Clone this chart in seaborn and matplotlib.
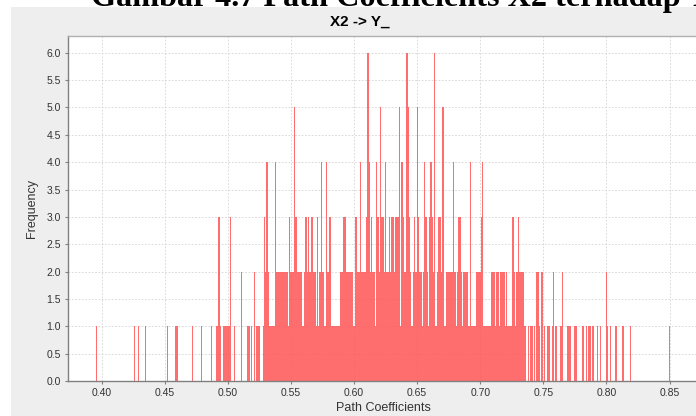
import numpy as np
import pandas as pd
import matplotlib
matplotlib.use("Agg")
import matplotlib.pyplot as plt
from matplotlib.patches import Rectangle
import seaborn as sns

# ---- data (bin centre -> frequency) ----
coefficients = [
    0.396, 0.426, 0.429, 0.435, 0.452, 0.459, 0.460, 0.472, 0.479, 0.487,
    0.491, 0.492, 0.493, 0.494, 0.497, 0.498, 0.499, 0.500, 0.501, 0.502,
    0.505, 0.511, 0.516, 0.517, 0.519, 0.521, 0.523, 0.524, 0.525, 0.528,
    0.529, 0.530, 0.531, 0.532, 0.533, 0.534, 0.535, 0.536, 0.537, 0.538,
    0.539, 0.540, 0.541, 0.542, 0.543, 0.544, 0.545, 0.546, 0.547, 0.548,
    0.549, 0.550, 0.551, 0.552, 0.553, 0.554, 0.555, 0.556, 0.557, 0.558,
    0.559, 0.560, 0.561, 0.562, 0.563, 0.564, 0.565, 0.566, 0.567, 0.568,
    0.569, 0.570, 0.571, 0.572, 0.573, 0.574, 0.575, 0.576, 0.577, 0.578,
    0.579, 0.580, 0.581, 0.582, 0.583, 0.584, 0.585, 0.586, 0.587, 0.588,
    0.589, 0.590, 0.591, 0.592, 0.593, 0.594, 0.595, 0.596, 0.597, 0.598,
    0.599, 0.600, 0.601, 0.602, 0.603, 0.604, 0.605, 0.606, 0.607, 0.608,
    0.609, 0.610, 0.611, 0.612, 0.613, 0.614, 0.615, 0.616, 0.617, 0.618,
    0.619, 0.620, 0.621, 0.622, 0.623, 0.624, 0.625, 0.626, 0.627, 0.628,
    0.629, 0.630, 0.631, 0.632, 0.633, 0.634, 0.635, 0.636, 0.637, 0.638,
    0.639, 0.640, 0.641, 0.642, 0.643, 0.644, 0.645, 0.646, 0.647, 0.648,
    0.649, 0.650, 0.651, 0.652, 0.653, 0.654, 0.655, 0.656, 0.657, 0.658,
    0.659, 0.660, 0.661, 0.662, 0.663, 0.664, 0.665, 0.666, 0.667, 0.668,
    0.669, 0.670, 0.671, 0.672, 0.673, 0.674, 0.675, 0.676, 0.677, 0.678,
    0.679, 0.680, 0.681, 0.682, 0.683, 0.684, 0.685, 0.686, 0.687, 0.688,
    0.689, 0.690, 0.691, 0.692, 0.693, 0.694, 0.695, 0.696, 0.697, 0.698,
    0.699, 0.700, 0.701, 0.702, 0.703, 0.704, 0.705, 0.706, 0.707, 0.708,
    0.709, 0.710, 0.711, 0.712, 0.713, 0.714, 0.715, 0.716, 0.717, 0.718,
    0.719, 0.720, 0.721, 0.722, 0.723, 0.724, 0.725, 0.726, 0.727, 0.728,
    0.729, 0.730, 0.731, 0.732, 0.733, 0.734, 0.735, 0.736, 0.738, 0.740,
    0.741, 0.743, 0.745, 0.746, 0.747, 0.749, 0.751, 0.753, 0.754, 0.755,
    0.757, 0.758, 0.760, 0.764, 0.765, 0.769, 0.770, 0.771, 0.775, 0.776,
    0.781, 0.782, 0.784, 0.786, 0.787, 0.789, 0.790, 0.793, 0.795, 0.800,
    0.801, 0.803, 0.807, 0.808, 0.813, 0.819, 0.850,
]
frequency = [
    1, 1, 1, 1, 1, 1, 1, 1, 1, 1,
    1, 1, 3, 1, 1, 1, 1, 1, 1, 3,
    1, 2, 1, 1, 1, 2, 1, 1, 1, 1,
    3, 2, 4, 2, 1, 1, 1, 1, 1, 4,
    2, 2, 2, 2, 2, 2, 2, 2, 2, 1,
    3, 2, 2, 2, 5, 3, 2, 2, 2, 2,
    1, 1, 2, 3, 2, 3, 2, 3, 3, 2,
    2, 1, 3, 1, 2, 4, 2, 2, 1, 4,
    2, 2, 3, 1, 1, 1, 1, 1, 1, 1,
    2, 2, 2, 3, 3, 2, 2, 2, 2, 2,
    2, 1, 3, 3, 2, 2, 4, 2, 2, 2,
    2, 3, 6, 4, 2, 3, 2, 2, 1, 4,
    3, 2, 5, 3, 3, 2, 4, 2, 2, 3,
    2, 3, 3, 2, 3, 3, 3, 5, 1, 4,
    3, 2, 2, 6, 5, 3, 2, 1, 2, 3,
    2, 5, 3, 2, 2, 1, 2, 4, 3, 2,
    1, 3, 4, 3, 2, 6, 1, 2, 3, 3,
    2, 5, 5, 1, 2, 2, 2, 2, 2, 2,
    4, 2, 1, 2, 3, 3, 2, 1, 2, 2,
    2, 2, 1, 4, 1, 1, 1, 1, 2, 2,
    2, 2, 3, 4, 1, 1, 1, 1, 1, 1,
    2, 2, 2, 1, 2, 2, 1, 2, 2, 2,
    2, 1, 2, 1, 1, 1, 1, 3, 2, 1,
    2, 3, 2, 2, 2, 2, 1, 1, 1, 1,
    1, 1, 2, 2, 1, 2, 1, 1, 1, 1,
    1, 2, 1, 1, 2, 1, 1, 1, 1, 1,
    1, 1, 1, 1, 1, 1, 1, 1, 1, 2,
    1, 1, 1, 1, 1, 1, 1,
]
x_ticks = [0.40, 0.45, 0.50, 0.55, 0.60, 0.65, 0.70, 0.75, 0.80, 0.85]
y_ticks = [0.0, 0.5, 1.0, 1.5, 2.0, 2.5, 3.0, 3.5, 4.0, 4.5, 5.0, 5.5, 6.0]
chart_title = "X2 -> Y_"
caption = "Gambar 4.7 Path Coefficients X2 terhadap Y"

df = pd.DataFrame({"coef": coefficients, "freq": frequency})

W, H = 696, 416
fig = plt.figure(figsize=(W / 100, H / 100), dpi=100)
fig.patch.set_facecolor("white")

# grey chart panel
fig.add_artist(Rectangle((11 / W, 0), 1, 1 - 7 / H, transform=fig.transFigure,
                         facecolor="#eeeeee", edgecolor="none", zorder=0))

# caption (its top is clipped by the image edge, as in the reference)
fig.text(91 / W, 1 - 6 / H, caption, ha="left", va="baseline",
         fontfamily="Liberation Serif", fontweight="bold", fontsize=23.2,
         color="black", zorder=5)

left_px, right_px, top_px, bottom_px = 67.7, 700, 36.3, 381
ax = fig.add_axes([left_px / W, (H - bottom_px) / H,
                   (right_px - left_px) / W, (bottom_px - top_px) / H])
ax.set_facecolor("white")

sns.histplot(data=df, x="coef", weights="freq", binwidth=0.001,
             binrange=(0.3955, 0.8505), ax=ax,
             color="#ff5555", alpha=0.85, linewidth=0,
             element="bars", fill=True)

ax.set_xlim(0.3731, 0.8741)
ax.set_ylim(0, 6.3)
ax.set_xticks(x_ticks)
ax.set_xticklabels([f"{t:.2f}" for t in x_ticks])
ax.set_yticks(y_ticks)
ax.set_yticklabels([f"{t:.1f}" for t in y_ticks])

ax.grid(True, color="#d4d4d4", linestyle=(0, (2, 2)), linewidth=0.6)
ax.set_axisbelow(True)

ax.spines["right"].set_visible(False)
ax.spines["top"].set_color("#b0b0b0")
ax.spines["left"].set_color("#808080")
ax.spines["bottom"].set_color("#808080")
for s in ["top", "left", "bottom"]:
    ax.spines[s].set_linewidth(1.0)

ax.tick_params(axis="both", direction="out", length=2, width=0.8,
               color="#808080", labelsize=7.5, labelcolor="#333333", pad=3)
for lab in ax.get_xticklabels() + ax.get_yticklabels():
    lab.set_fontfamily("Liberation Sans")

ax.set_xlabel("Path Coefficients", fontfamily="Liberation Sans", fontsize=9,
              color="#333333", labelpad=3)
ax.set_ylabel("Frequency", fontfamily="Liberation Sans", fontsize=9,
              color="#333333", labelpad=6)

fig.text(360 / W, 1 - 22 / H, chart_title, ha="center", va="center",
         fontfamily="Liberation Sans", fontweight="bold", fontsize=11,
         color="black")

fig.savefig("out.png", dpi=100, facecolor=fig.get_facecolor())
